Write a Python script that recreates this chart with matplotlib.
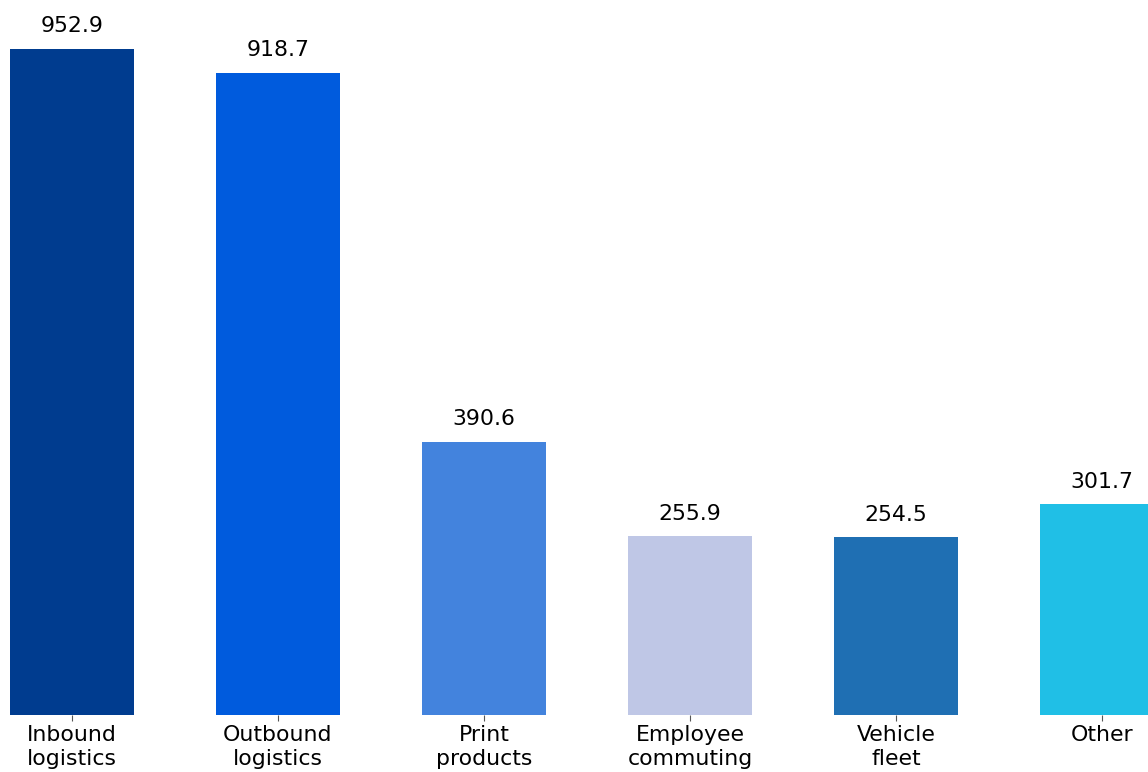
import matplotlib.pyplot as plt

categories = ["Inbound\nlogistics", "Outbound\nlogistics", "Print\nproducts",
              "Employee\ncommuting", "Vehicle\nfleet", "Other"]
values = [952.9, 918.7, 390.6, 255.9, 254.5, 301.7]
colors = ["#003c8f", "#005bdd", "#4383dd", "#bfc7e6", "#1f6fb3", "#20bfe6"]

fig = plt.figure(figsize=(11.48, 7.72), dpi=100)
ax = fig.add_axes([10 / 1148, 57 / 772, 1154 / 1148, 715 / 772])

x = range(len(values))
bars = ax.bar(x, values, width=0.6, color=colors)
for b, v in zip(bars, values):
    ax.annotate(f"{v:.1f}", (b.get_x() + b.get_width() / 2, v),
                xytext=(0, 9), textcoords="offset points",
                ha="center", va="bottom", fontsize=15.8)

ax.set_xlim(-0.3, 5.3)
ax.set_ylim(0, 1023)
ax.set_xticks(list(x))
ax.set_xticklabels(categories, fontsize=15.8)
ax.tick_params(axis="x", length=4, color="#555555")
ax.set_yticks([])
for s in ax.spines.values():
    s.set_visible(False)

fig.savefig("out.png", dpi=100)
